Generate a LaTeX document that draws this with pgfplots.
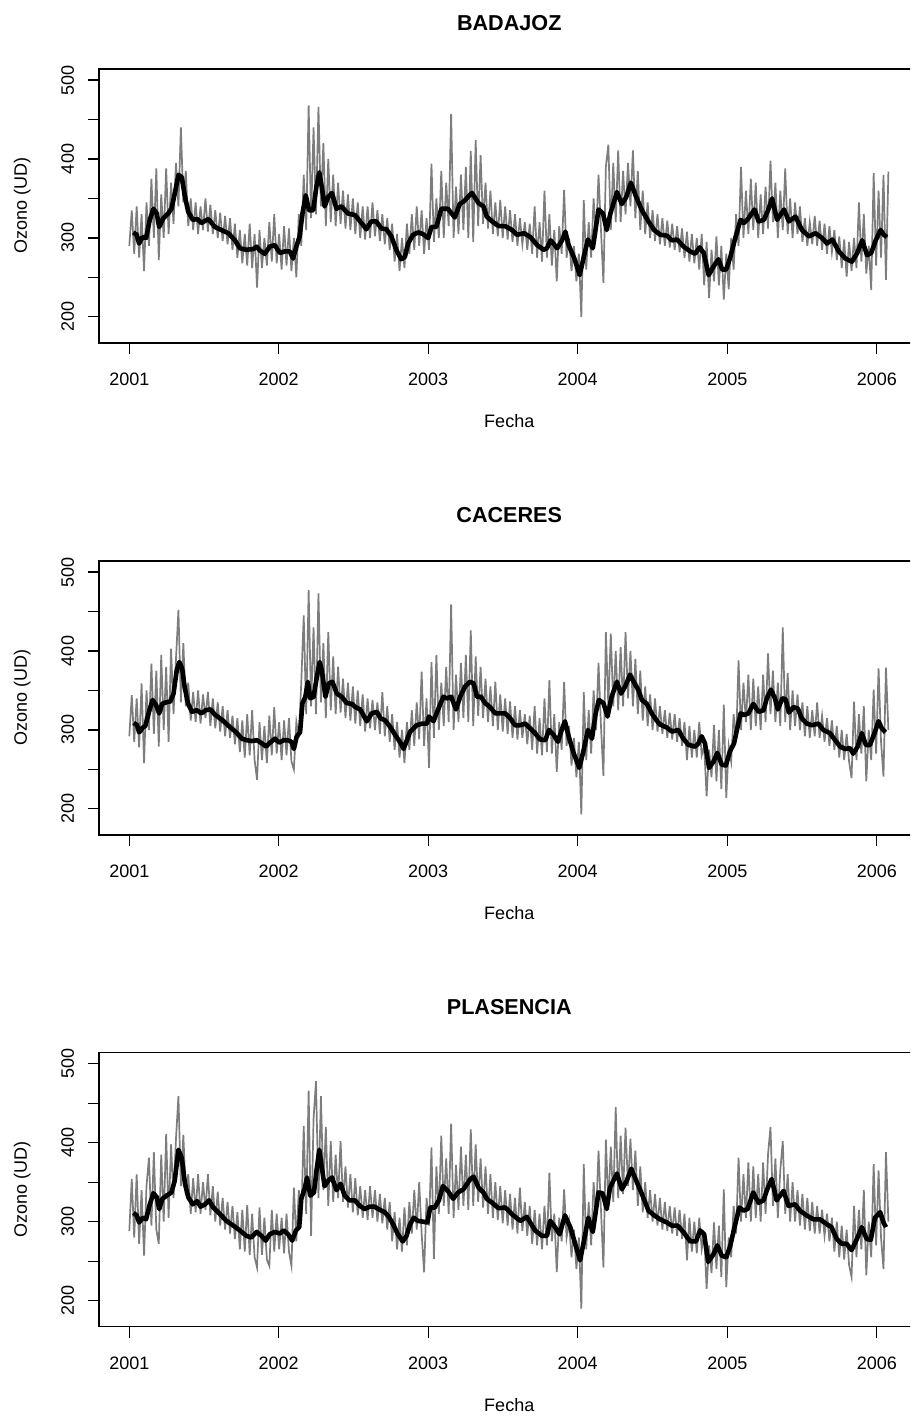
\documentclass[border=0pt]{standalone}
\usepackage{fontspec}
\setmainfont{Liberation Sans}
\usepackage{pgfplots}
\pgfplotsset{compat=1.18}
\definecolor{serie}{RGB}{125,125,125}
\pgfplotsset{
  panel/.style={
    scale only axis, width=410.25pt, height=137pt,
    xmin=-74, xmax=1930, ymin=167, ymax=514,
    axis line style={line width=0.55pt},
    every tick/.style={black, line width=0.55pt},
    tick align=outside, major tick length=5.5pt,
    xtick pos=bottom, ytick pos=left,
    xtick={0,365,730,1095,1461,1826},
    xticklabels={2001,2002,2003,2004,2005,2006},
    ytick={200,250,300,350,400,450,500},
    yticklabels={200,,300,,400,,500},
    tick label style={font=\fontsize{9}{10}\selectfont},
    label style={font=\fontsize{9}{10}\selectfont},
    /pgf/number format/assume math mode=true,
    xticklabel style={anchor=north, inner sep=0pt},
    yticklabel style={rotate=90, anchor=south, inner sep=0pt},
    xticklabel shift=9.35pt, yticklabel shift=6.75pt,
    xlabel={Fecha}, ylabel={Ozono (UD)},
    xlabel style={at={(axis description cs:0.5,-0.3102)}, anchor=base, inner sep=0pt},
    ylabel style={at={(axis description cs:-0.08775,0.5)}, anchor=base, inner sep=0pt},
    title style={at={(axis description cs:0.5,1.096)}, anchor=base, inner sep=0pt, font=\bfseries\fontsize{10.8}{13}\selectfont},
  },
  grayline/.style={serie, line width=0.85pt},
  blackline/.style={black, line width=2.3pt, line join=round},
}
\begin{document}
\begin{tikzpicture}
\path[use as bounding box] (0,0) rectangle (455pt,708pt);
\clip (0,0) rectangle (455pt,708pt);
% ---------------- BADAJOZ ----------------
\begin{axis}[panel, at={(49.5pt,536.5pt)}, anchor=south west, title={BADAJOZ}]
\addplot[grayline] coordinates {(0,290)(6,335)(12,280)(18,340)(24,275)(30,330)(36,258)(42,345)(48,290)(54,375)(60,300)(66,388)(72,272)(78,355)(84,300)(90,388)(96,305)(102,370)(108,318)(114,395)(120,340)(126,440)(132,345)(138,385)(144,315)(150,350)(156,310)(162,345)(168,305)(174,340)(180,310)(186,350)(192,308)(198,342)(204,305)(210,335)(216,300)(222,332)(228,296)(234,328)(240,292)(246,325)(252,285)(258,318)(264,275)(270,310)(276,268)(282,305)(288,265)(294,318)(300,262)(306,305)(312,237)(318,310)(324,262)(330,300)(336,265)(342,320)(348,270)(354,330)(360,268)(366,305)(372,260)(378,315)(384,265)(390,312)(396,258)(402,300)(408,250)(414,330)(420,290)(426,380)(432,310)(438,468)(444,325)(450,440)(456,330)(462,466)(468,340)(474,420)(480,315)(486,400)(492,320)(498,380)(504,315)(510,370)(516,318)(522,360)(528,312)(534,355)(540,310)(546,350)(552,305)(558,345)(564,300)(570,340)(576,298)(582,340)(588,300)(594,345)(600,302)(606,335)(612,296)(618,330)(624,292)(630,325)(636,285)(642,318)(648,270)(654,305)(660,258)(666,300)(672,262)(678,318)(684,280)(690,330)(696,285)(702,340)(708,290)(714,335)(720,280)(726,325)(732,285)(738,394)(744,295)(750,350)(756,300)(762,385)(768,300)(774,370)(780,315)(786,457)(792,300)(798,365)(804,305)(810,380)(816,310)(822,390)(828,300)(834,410)(840,295)(846,424)(852,315)(858,405)(864,318)(870,370)(876,312)(882,360)(888,305)(894,345)(900,302)(906,348)(912,300)(918,340)(924,298)(930,335)(936,295)(942,330)(948,290)(954,325)(960,292)(966,320)(972,285)(978,318)(984,280)(990,340)(996,275)(1002,320)(1008,270)(1014,360)(1020,275)(1026,330)(1032,265)(1038,310)(1044,245)(1050,315)(1056,280)(1062,361)(1068,275)(1074,300)(1080,258)(1086,290)(1092,245)(1098,280)(1104,200)(1110,348)(1116,260)(1122,320)(1128,275)(1134,350)(1140,300)(1146,380)(1152,310)(1158,243)(1164,390)(1170,418)(1176,310)(1182,395)(1188,320)(1194,411)(1200,320)(1206,385)(1212,330)(1218,395)(1224,340)(1230,411)(1236,325)(1242,385)(1248,310)(1254,360)(1260,305)(1266,345)(1272,300)(1278,335)(1284,296)(1290,330)(1296,292)(1302,325)(1308,290)(1314,322)(1320,288)(1326,318)(1332,285)(1338,315)(1344,282)(1350,312)(1356,275)(1362,308)(1368,270)(1374,305)(1380,268)(1386,300)(1392,260)(1398,305)(1404,240)(1410,295)(1416,224)(1422,285)(1428,245)(1434,302)(1440,240)(1446,290)(1452,222)(1458,280)(1464,235)(1470,300)(1476,260)(1482,330)(1488,290)(1494,390)(1500,300)(1506,360)(1512,305)(1518,375)(1524,310)(1530,370)(1536,300)(1542,355)(1548,305)(1554,365)(1560,312)(1566,398)(1572,320)(1578,370)(1584,300)(1590,360)(1596,310)(1602,388)(1608,305)(1614,350)(1620,300)(1626,345)(1632,305)(1638,340)(1644,295)(1650,325)(1656,290)(1662,320)(1668,292)(1674,328)(1680,290)(1686,322)(1692,285)(1698,318)(1704,280)(1710,315)(1716,282)(1722,310)(1728,272)(1734,302)(1740,262)(1746,298)(1752,251)(1758,295)(1764,258)(1770,300)(1776,262)(1782,345)(1788,270)(1794,330)(1800,255)(1806,290)(1812,234)(1818,382)(1824,265)(1830,360)(1836,275)(1842,380)(1848,247)(1854,384)};
\addplot[blackline] coordinates {(10,307)(18,304)(24,293)(32,301)(41,300)(50,323)(59,337)(67,331)(73,314)(83,325)(95,331)(103,337)(111,356)(120,380)(128,377)(136,352)(144,333)(155,323)(166,324)(176,319)(193,324)(209,314)(225,310)(242,306)(258,297)(270,287)(286,285)(303,286)(311,289)(319,284)(331,280)(343,289)(355,291)(368,281)(380,283)(392,283)(400,274)(408,289)(416,302)(423,331)(431,354)(439,335)(449,335)(457,365)(464,383)(470,365)(477,340)(486,352)(495,357)(506,337)(518,340)(534,331)(551,329)(567,319)(579,311)(591,321)(603,321)(616,312)(628,311)(640,302)(652,285)(664,273)(673,276)(681,293)(693,304)(705,307)(717,305)(730,300)(738,314)(750,314)(762,337)(778,337)(795,326)(807,343)(816,346)(837,357)(853,344)(865,340)(873,327)(886,321)(902,315)(918,315)(935,310)(947,304)(964,306)(980,301)(996,291)(1012,285)(1020,287)(1029,297)(1045,287)(1057,297)(1065,308)(1073,291)(1087,274)(1100,253)(1110,276)(1120,298)(1132,287)(1146,336)(1157,331)(1166,310)(1175,331)(1191,358)(1203,343)(1214,352)(1225,370)(1238,352)(1252,335)(1268,321)(1282,310)(1297,304)(1313,303)(1325,297)(1338,298)(1354,289)(1370,283)(1382,280)(1393,288)(1403,281)(1415,253)(1427,264)(1439,273)(1448,260)(1458,260)(1468,276)(1480,300)(1493,323)(1501,319)(1511,324)(1527,336)(1537,321)(1550,323)(1560,335)(1570,350)(1582,323)(1599,336)(1611,321)(1627,327)(1643,310)(1660,302)(1676,306)(1692,300)(1704,293)(1717,298)(1733,283)(1749,274)(1765,270)(1778,281)(1790,297)(1802,278)(1812,281)(1823,297)(1835,310)(1843,304)(1850,301)};
\end{axis}
% ---------------- CACERES ----------------
\begin{axis}[panel, at={(49.5pt,290.5pt)}, anchor=south west, title={CACERES}]
\addplot[grayline] coordinates {(0,292)(6,344)(12,285)(18,340)(24,278)(30,359)(36,258)(42,350)(48,300)(54,384)(60,295)(66,375)(72,279)(78,395)(84,300)(90,380)(96,285)(102,403)(108,320)(114,390)(120,452)(126,335)(132,410)(138,330)(144,360)(150,312)(156,348)(162,310)(168,350)(174,308)(180,345)(186,315)(192,348)(198,305)(204,340)(210,302)(216,335)(222,298)(228,330)(234,292)(240,325)(246,290)(252,318)(258,282)(264,315)(270,272)(276,312)(282,265)(288,320)(294,268)(300,325)(306,262)(312,237)(318,310)(324,262)(330,305)(336,258)(342,318)(348,268)(354,329)(360,270)(366,310)(372,262)(378,312)(384,268)(390,315)(396,260)(402,250)(408,310)(414,290)(420,360)(426,445)(432,320)(438,477)(444,330)(450,430)(456,320)(462,473)(468,335)(474,410)(480,315)(486,424)(492,325)(498,393)(504,320)(510,380)(516,322)(522,365)(528,315)(534,360)(540,312)(546,355)(552,308)(558,350)(564,305)(570,345)(576,298)(582,340)(588,302)(594,338)(600,300)(606,335)(612,295)(618,348)(624,292)(630,330)(636,285)(642,320)(648,275)(654,310)(660,265)(666,300)(672,258)(678,310)(684,275)(690,325)(696,280)(702,335)(708,288)(714,374)(720,280)(726,340)(732,252)(738,386)(744,290)(750,395)(756,300)(762,360)(768,305)(774,380)(780,310)(786,459)(792,300)(798,370)(804,310)(810,385)(816,315)(822,395)(828,310)(834,426)(840,305)(846,393)(852,318)(858,380)(864,315)(870,365)(876,310)(882,355)(888,305)(894,361)(900,300)(906,345)(912,298)(918,340)(924,295)(930,336)(936,290)(942,330)(948,288)(954,325)(960,290)(966,320)(972,282)(978,318)(984,275)(990,330)(996,270)(1002,315)(1008,268)(1014,340)(1020,272)(1026,363)(1032,270)(1038,320)(1044,247)(1050,310)(1056,275)(1062,361)(1068,280)(1074,305)(1080,255)(1086,290)(1092,240)(1098,285)(1104,193)(1110,348)(1116,262)(1122,325)(1128,270)(1134,350)(1140,300)(1146,385)(1152,305)(1158,242)(1164,424)(1170,330)(1176,422)(1182,330)(1188,400)(1194,325)(1200,405)(1206,330)(1212,424)(1218,340)(1224,400)(1230,330)(1236,390)(1242,320)(1248,375)(1254,312)(1260,355)(1266,305)(1272,345)(1278,300)(1284,340)(1290,298)(1296,330)(1302,295)(1308,325)(1314,290)(1320,322)(1326,288)(1332,320)(1338,285)(1344,315)(1350,280)(1356,310)(1362,262)(1368,305)(1374,265)(1380,300)(1386,265)(1392,310)(1398,268)(1404,280)(1410,216)(1416,275)(1422,240)(1428,306)(1434,235)(1440,300)(1446,225)(1452,332)(1458,214)(1464,280)(1470,260)(1476,320)(1482,285)(1488,388)(1494,300)(1500,360)(1506,310)(1512,370)(1518,300)(1524,365)(1530,305)(1536,355)(1542,300)(1548,370)(1554,310)(1560,397)(1566,320)(1572,375)(1578,310)(1584,360)(1590,305)(1596,430)(1602,310)(1608,372)(1614,300)(1620,350)(1626,305)(1632,345)(1638,300)(1644,335)(1650,292)(1656,330)(1662,290)(1668,325)(1674,292)(1680,335)(1686,290)(1692,318)(1698,285)(1704,315)(1710,280)(1716,312)(1722,275)(1728,305)(1734,265)(1740,300)(1746,262)(1752,295)(1758,260)(1764,239)(1770,336)(1776,262)(1782,320)(1788,270)(1794,330)(1800,235)(1806,300)(1812,262)(1818,351)(1824,270)(1830,378)(1836,285)(1842,241)(1848,379)(1854,300)};
\addplot[blackline] coordinates {(11,309)(19,306)(24,297)(33,303)(39,305)(47,321)(57,338)(65,332)(73,321)(80,333)(90,335)(100,336)(108,346)(116,376)(122,386)(129,378)(135,355)(143,334)(153,323)(165,325)(176,321)(186,325)(198,326)(210,319)(226,313)(243,305)(259,298)(275,289)(287,287)(299,286)(312,287)(324,283)(334,279)(344,284)(356,289)(366,284)(377,287)(387,287)(396,285)(402,276)(409,292)(417,297)(423,334)(430,342)(436,361)(442,340)(450,342)(458,367)(465,386)(470,376)(479,342)(487,359)(496,361)(507,346)(519,342)(531,334)(544,333)(552,329)(564,326)(580,311)(592,321)(605,323)(613,315)(625,312)(637,304)(649,294)(662,284)(670,276)(678,287)(686,298)(694,302)(702,306)(715,308)(727,308)(732,317)(743,311)(755,327)(767,342)(776,340)(786,342)(798,326)(808,342)(820,355)(832,361)(841,359)(849,342)(859,342)(869,334)(881,329)(894,321)(906,321)(918,321)(930,315)(942,306)(955,306)(967,308)(979,302)(991,296)(1003,288)(1016,287)(1025,300)(1036,294)(1047,285)(1056,300)(1064,311)(1073,292)(1085,271)(1099,252)(1109,273)(1120,300)(1130,289)(1139,321)(1147,338)(1158,334)(1168,317)(1178,342)(1191,361)(1201,346)(1211,355)(1223,370)(1234,359)(1243,351)(1252,338)(1264,333)(1276,321)(1288,312)(1296,307)(1313,303)(1325,298)(1341,300)(1353,289)(1366,281)(1382,279)(1390,283)(1398,292)(1406,283)(1416,252)(1427,260)(1436,271)(1447,256)(1457,255)(1467,273)(1477,283)(1484,300)(1493,321)(1502,319)(1512,321)(1524,333)(1537,323)(1549,325)(1557,340)(1567,351)(1577,340)(1584,326)(1595,340)(1603,339)(1611,322)(1622,329)(1633,327)(1642,315)(1655,308)(1667,306)(1683,308)(1695,300)(1711,296)(1724,287)(1736,279)(1748,276)(1760,277)(1768,270)(1779,279)(1789,296)(1799,281)(1809,281)(1820,296)(1830,311)(1838,302)(1847,297)};
\end{axis}
% ---------------- PLASENCIA ----------------
\begin{axis}[panel, at={(49.5pt,44.65pt)}, anchor=south west, title={PLASENCIA}]
\addplot[grayline] coordinates {(0,288)(6,354)(12,280)(18,360)(24,272)(30,340)(36,257)(42,345)(48,381)(54,295)(60,388)(66,290)(72,272)(78,385)(84,300)(90,411)(96,305)(102,398)(108,330)(114,405)(120,459)(126,345)(132,410)(138,335)(144,360)(150,310)(156,355)(162,312)(168,360)(174,310)(180,350)(186,315)(192,360)(198,308)(204,345)(210,300)(216,338)(222,295)(228,330)(234,290)(240,325)(246,285)(252,320)(258,278)(264,312)(270,265)(276,315)(282,262)(288,321)(294,258)(300,310)(306,255)(312,242)(318,318)(324,258)(330,305)(336,252)(342,244)(348,315)(354,262)(360,310)(366,265)(372,305)(378,260)(384,310)(390,262)(396,244)(402,343)(408,275)(414,340)(420,300)(426,421)(432,310)(438,466)(444,282)(450,430)(456,478)(462,330)(468,459)(474,340)(480,420)(486,320)(492,402)(498,325)(504,385)(510,330)(516,402)(522,325)(528,370)(534,318)(540,360)(546,312)(552,355)(558,308)(564,345)(570,305)(576,340)(582,302)(588,345)(594,305)(600,340)(606,300)(612,335)(618,298)(624,330)(630,290)(636,325)(642,275)(648,312)(654,265)(660,305)(666,262)(672,318)(678,270)(684,325)(690,285)(696,340)(702,290)(708,350)(714,285)(720,236)(726,330)(732,295)(738,394)(744,253)(750,370)(756,310)(762,409)(768,320)(774,380)(780,310)(786,424)(792,305)(798,372)(804,315)(810,395)(816,320)(822,385)(828,315)(834,417)(840,320)(846,398)(852,325)(858,380)(864,318)(870,370)(876,310)(882,360)(888,305)(894,350)(900,302)(906,345)(912,298)(918,340)(924,295)(930,335)(936,290)(942,330)(948,285)(954,343)(960,288)(966,325)(972,282)(978,320)(984,272)(990,315)(996,270)(1002,310)(1008,265)(1014,320)(1020,270)(1026,362)(1032,275)(1038,310)(1044,236)(1050,305)(1056,275)(1062,341)(1068,280)(1074,300)(1080,255)(1086,290)(1092,240)(1098,280)(1104,190)(1110,373)(1116,265)(1122,325)(1128,270)(1134,350)(1140,305)(1146,390)(1152,315)(1158,242)(1164,404)(1170,320)(1176,395)(1182,325)(1188,445)(1194,330)(1200,409)(1206,335)(1212,419)(1218,345)(1224,405)(1230,340)(1236,390)(1242,320)(1248,370)(1254,312)(1260,350)(1266,305)(1272,340)(1278,300)(1284,335)(1290,295)(1296,330)(1302,290)(1308,325)(1314,288)(1320,320)(1326,285)(1332,318)(1338,282)(1344,315)(1350,278)(1356,310)(1362,251)(1368,305)(1374,262)(1380,300)(1386,260)(1392,305)(1398,265)(1404,285)(1410,215)(1416,270)(1422,235)(1428,299)(1434,240)(1440,295)(1446,230)(1452,341)(1458,217)(1464,280)(1470,255)(1476,320)(1482,285)(1488,381)(1494,300)(1500,360)(1506,305)(1512,375)(1518,300)(1524,370)(1530,305)(1536,360)(1542,300)(1548,375)(1554,310)(1560,385)(1566,420)(1572,320)(1578,380)(1584,305)(1590,365)(1596,402)(1602,310)(1608,360)(1614,300)(1620,350)(1626,300)(1632,340)(1638,295)(1644,335)(1650,290)(1656,330)(1662,288)(1668,325)(1674,285)(1680,320)(1686,285)(1692,315)(1698,282)(1704,310)(1710,275)(1716,305)(1722,262)(1728,300)(1734,255)(1740,295)(1746,252)(1752,290)(1758,245)(1764,230)(1770,320)(1776,255)(1782,315)(1788,265)(1794,340)(1800,232)(1806,300)(1812,255)(1818,373)(1824,270)(1830,365)(1836,280)(1842,240)(1848,388)(1854,300)};
\addplot[blackline] coordinates {(10,311)(18,308)(24,299)(33,305)(41,303)(50,322)(59,336)(67,331)(73,316)(81,329)(91,333)(103,337)(111,352)(120,391)(128,381)(136,348)(144,331)(155,322)(166,326)(174,319)(185,322)(195,327)(205,318)(221,310)(237,301)(254,295)(270,289)(286,282)(298,280)(311,287)(323,282)(333,276)(343,284)(355,287)(368,285)(377,289)(388,284)(398,276)(407,289)(415,293)(420,329)(429,343)(434,356)(442,333)(451,337)(457,364)(464,391)(470,369)(477,345)(486,352)(495,356)(506,340)(516,348)(526,333)(538,327)(551,327)(563,320)(575,316)(587,319)(599,319)(612,315)(624,312)(634,306)(644,297)(656,284)(668,275)(677,282)(686,297)(695,305)(705,301)(717,300)(728,299)(735,318)(746,318)(756,327)(766,345)(778,339)(791,329)(803,337)(816,341)(833,354)(841,357)(853,343)(865,337)(873,329)(886,324)(902,317)(918,318)(938,308)(955,301)(971,306)(991,289)(1008,282)(1020,282)(1028,301)(1040,293)(1051,284)(1064,308)(1077,293)(1089,272)(1101,251)(1112,280)(1121,305)(1132,287)(1146,337)(1156,336)(1166,316)(1174,343)(1191,361)(1203,341)(1215,352)(1226,367)(1238,352)(1252,335)(1268,314)(1282,308)(1296,303)(1313,299)(1325,295)(1339,295)(1353,287)(1370,275)(1384,275)(1394,289)(1404,284)(1414,249)(1427,259)(1436,270)(1447,257)(1458,255)(1467,268)(1480,297)(1490,318)(1500,314)(1510,316)(1524,337)(1537,324)(1549,327)(1558,341)(1569,354)(1581,327)(1598,339)(1610,320)(1626,322)(1638,314)(1654,308)(1671,303)(1687,303)(1703,297)(1715,293)(1728,278)(1740,272)(1752,272)(1764,264)(1777,278)(1789,293)(1801,278)(1811,277)(1821,305)(1834,312)(1842,299)(1848,293)};
\end{axis}
\end{tikzpicture}
\end{document}
